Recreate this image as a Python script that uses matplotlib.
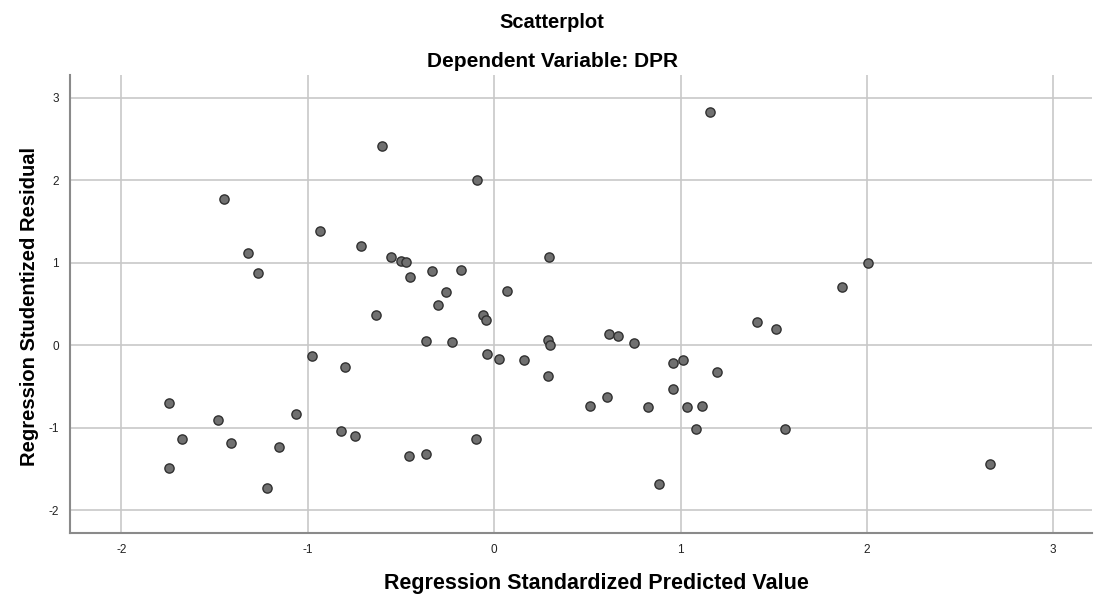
import numpy as np
import matplotlib
matplotlib.use("Agg")
import matplotlib.pyplot as plt

plt.rcParams['font.family'] = ['Liberation Sans', 'DejaVu Sans']
plt.rcParams['axes.unicode_minus'] = False

# predicted (x) i studentized residual (y), ocitano sa slike
pred = [-0.601, -1.452, -0.937, -1.323, -0.715, -1.268, -0.556, -0.502, -0.475, -0.454,
        -0.336, 1.157, -0.093, 0.295, -0.177, -0.259, -0.300, 0.070, 2.008, 1.865,
        -0.636, -0.365, -0.980, -0.801, -1.744, -1.481, -1.065, -1.677, -1.414, -1.153,
        -0.821, -0.747, -1.744, -1.218, -0.459, -0.365, -0.062, -0.043, -0.225, 0.290,
        0.300, -0.038, 0.027, 0.161, 0.288, 0.615, 0.662, 0.748, 1.408, 1.515,
        0.957, 1.011, 1.198, 0.957, 0.608, 0.515, 0.823, 1.035, 1.114, 1.084,
        1.563, -0.100, 0.887, 2.658]
resid = [2.419, 1.776, 1.380, 1.117, 1.201, 0.878, 1.072, 1.023, 1.007, 0.829,
         0.898, 2.824, 1.999, 1.072, 0.906, 0.639, 0.481, 0.651, 0.991, 0.704,
         0.364, 0.045, -0.130, -0.263, -0.704, -0.906, -0.841, -1.141, -1.189, -1.238,
         -1.040, -1.100, -1.485, -1.731, -1.339, -1.323, 0.360, 0.311, 0.036, 0.057,
         0.004, -0.109, -0.166, -0.182, -0.372, 0.137, 0.105, 0.032, 0.283, 0.194,
         -0.214, -0.178, -0.328, -0.530, -0.627, -0.744, -0.756, -0.748, -0.736, -1.015,
         -1.019, -1.137, -1.683, -1.440]

x_ticks = [-2, -1, 0, 1, 2, 3]
y_ticks = [-2, -1, 0, 1, 2, 3]

fig = plt.figure(figsize=(10.94, 5.95), dpi=100)
ax = fig.add_axes([0.064, 0.104, 0.934, 0.770])

ax.scatter(pred, resid, s=44, facecolor='#707070', edgecolor='#303030',
           linewidths=1.0, zorder=3)

ax.set_xlim(-2.276, 3.207)
ax.set_ylim(-2.28, 3.277)
ax.set_xticks(x_ticks)
ax.set_yticks(y_ticks)
ax.grid(True, color='#c8c8c8', linewidth=1.2, zorder=0)
ax.tick_params(length=0, labelsize=8.5, pad=8, colors='#222222')

for s in ['top', 'right']:
    ax.spines[s].set_visible(False)
for s in ['left', 'bottom']:
    ax.spines[s].set_color('#8a8a8a')
    ax.spines[s].set_linewidth(1.5)

ax.set_xlabel('Regression Standardized Predicted Value', fontsize=15.5,
              fontweight='bold')
ax.xaxis.set_label_coords(0.515, -0.088)
ax.set_ylabel('Regression Studentized Residual', fontsize=14.5,
              fontweight='bold')
ax.yaxis.set_label_coords(-0.030, 0.495)

fig.text(0.5046, 0.963, 'Scatterplot', ha='center', va='center', fontsize=14.5,
         fontweight='bold')
fig.text(0.5046, 0.897, 'Dependent Variable: DPR', ha='center', va='center',
         fontsize=15, fontweight='bold')

plt.savefig('out.png', dpi=100)
